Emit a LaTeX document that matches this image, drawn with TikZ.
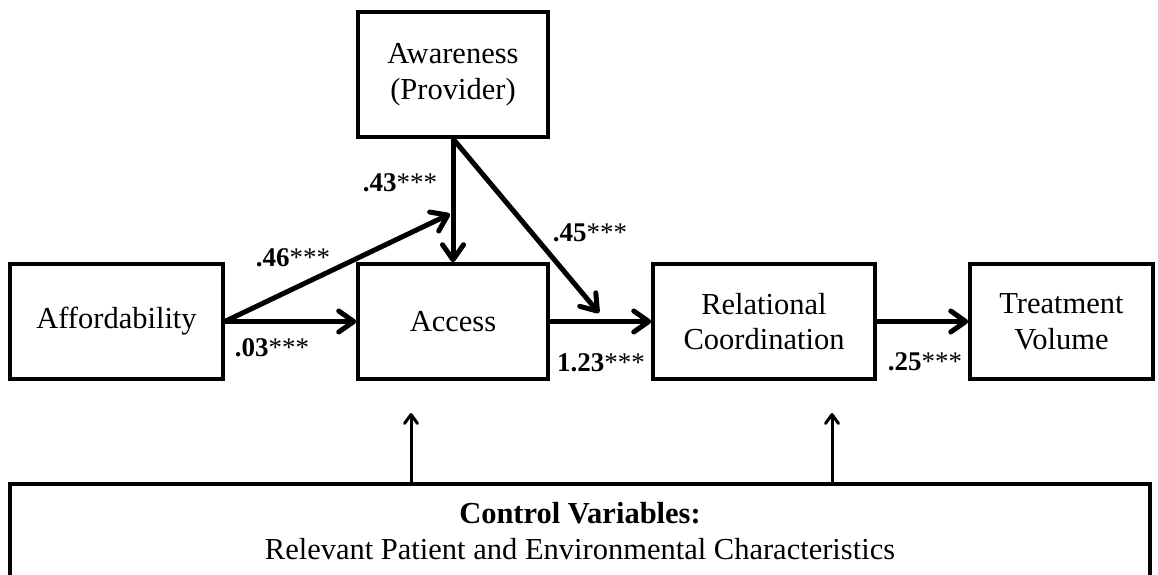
\documentclass[tikz,border=0pt]{standalone}
\usepackage{fontspec}
\setmainfont{Liberation Serif}
\usetikzlibrary{arrows.meta}

\begin{document}
\begin{tikzpicture}[x=1bp,y=-1bp,
  box/.style={draw, line width=3.5bp, rectangle, inner sep=0pt, align=center,
    font=\fontsize{30.5bp}{35.5bp}\selectfont},
  flow/.style={line width=5bp,
    -{Straight Barb[length=15bp,width=21bp,round]}},
  ctrl/.style={line width=3bp,
    -{Straight Barb[length=9bp,width=13bp,round]}},
  coef/.style={inner sep=0pt, font=\fontsize{27bp}{30bp}\selectfont}]

\useasboundingbox (0,0) rectangle (1158,575);
\clip (0,0) rectangle (1158,575);

% constructs
\node[box, minimum width=190bp, minimum height=125bp] (aware) at (453,74.5) {Awareness\\(Provider)};
\node[box, minimum width=213bp, minimum height=115bp] (afford) at (116.5,321.5) {Affordability};
\node[box, minimum width=190bp, minimum height=115bp] (access) at (453,321.5) {Access};
\node[box, minimum width=222bp, minimum height=115bp] (relc) at (764,321.5) {Relational\\Coordination};
\node[box, minimum width=183bp, minimum height=115bp] (treat) at (1061.5,321.5) {Treatment\\Volume};
\node[box, minimum width=1140bp, minimum height=94bp] (control) at (580,531)
  {\textbf{Control Variables:}\\Relevant Patient and Environmental Characteristics};

% ends of the moderation paths
\coordinate (modA) at (450,214);
\coordinate (modB) at (599,313);
\coordinate (upA) at (411,413);
\coordinate (upB) at (832,413);

% structural paths
\draw[flow] (afford) -- (access);
\draw[flow] (afford.east) -- (modA);
\draw[flow] (aware.south) -- (access.north);
\draw[flow] (aware.south) -- (modB);
\draw[flow] (access) -- (relc);
\draw[flow] (relc) -- (treat);

% control variables
\draw[ctrl] (control.north -| upA) -- (upA);
\draw[ctrl] (control.north -| upB) -- (upB);

% path coefficients
\node[coef] (c46) at (293,258) {\textbf{.46}***};
\node[coef] (c43) at (400,183) {\textbf{.43}***};
\node[coef] (c45) at (590,233) {\textbf{.45}***};
\node[coef] (c03) at (272,348) {\textbf{.03}***};
\node[coef] (c123) at (601,363) {\textbf{1.23}***};
\node[coef] (c25) at (925,362) {\textbf{.25}***};
\end{tikzpicture}
\end{document}
